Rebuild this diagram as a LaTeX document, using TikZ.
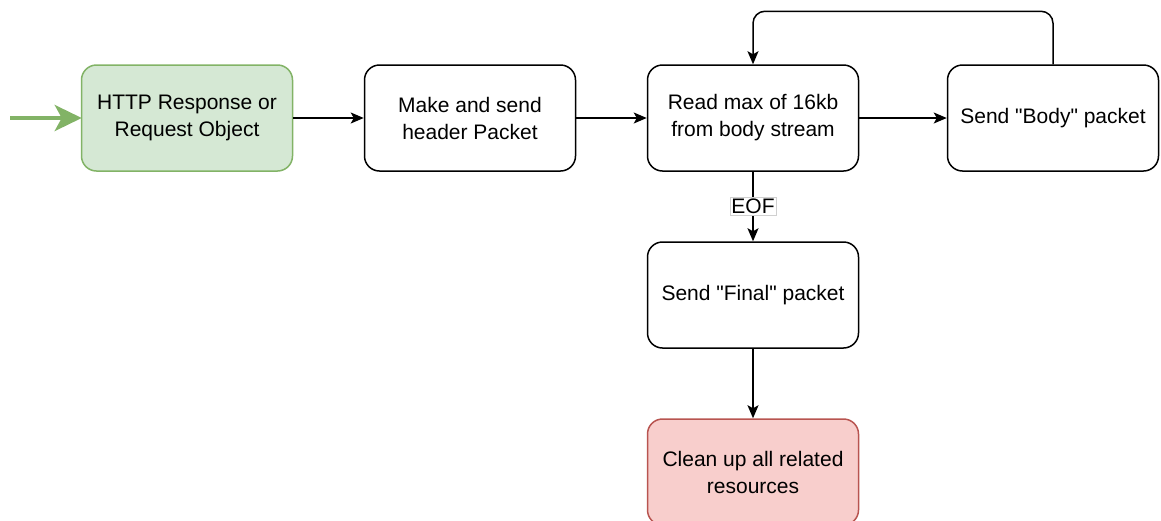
\documentclass[tikz,border=0pt]{standalone}
\usepackage{fontspec}
\setmainfont[Ligatures=TeXOff]{Liberation Sans}
\usetikzlibrary{arrows.meta}
\definecolor{gfill}{HTML}{D5E8D4}
\definecolor{gline}{HTML}{82B366}
\definecolor{rfill}{HTML}{F8CECC}
\definecolor{rline}{HTML}{B85450}
\definecolor{lblline}{HTML}{D0D0D0}
\tikzset{
  box/.style={draw=black, line width=1.5pt, rounded corners=15pt, minimum width=211pt, minimum height=106pt, align=center, inner sep=2pt, font=\fontsize{21}{27}\selectfont},
  greenbox/.style={box, draw=gline, fill=gfill},
  redbox/.style={box, draw=rline, fill=rfill},
  conn/.style={line width=1.5pt, -{Stealth[length=13pt,width=11pt,inset=3pt]}},
  lbl/.style={fill=white, draw=lblline, line width=0.6pt, inner sep=1.5pt, font=\fontsize{21}{24}\selectfont}
}
\begin{document}
\begin{tikzpicture}[x=1pt,y=-1pt]
\useasboundingbox (0,0) rectangle (1161,520);
\node[greenbox] (http) at (187,118) {HTTP Response or\\Request Object};
\node[box] (hdr) at (470,118) {Make and send\\header Packet};
\node[box] (read) at (753,118) {Read max of 16kb\\from body stream};
\node[box] (body) at (1053,118) {Send "Body" packet};
\node[box] (final) at (753,295) {Send "Final" packet};
\node[redbox] (clean) at (753,472) {Clean up all related\\resources};
\coordinate (start) at (10,118);
\draw[line width=4pt, draw=gline, -{Stealth[length=27pt,width=26pt,inset=7pt]}, shorten >=-1pt] (start) -- (http.west);
\draw[conn] (http) -- (hdr);
\draw[conn] (hdr) -- (read);
\draw[conn] (read) -- (body);
\draw[conn, rounded corners=12pt] (body.north) -- ++(0,-53) -| (read.north);
\draw[conn] (read) -- node[lbl] {EOF} (final);
\draw[conn] (final) -- (clean);
\end{tikzpicture}
\end{document}
